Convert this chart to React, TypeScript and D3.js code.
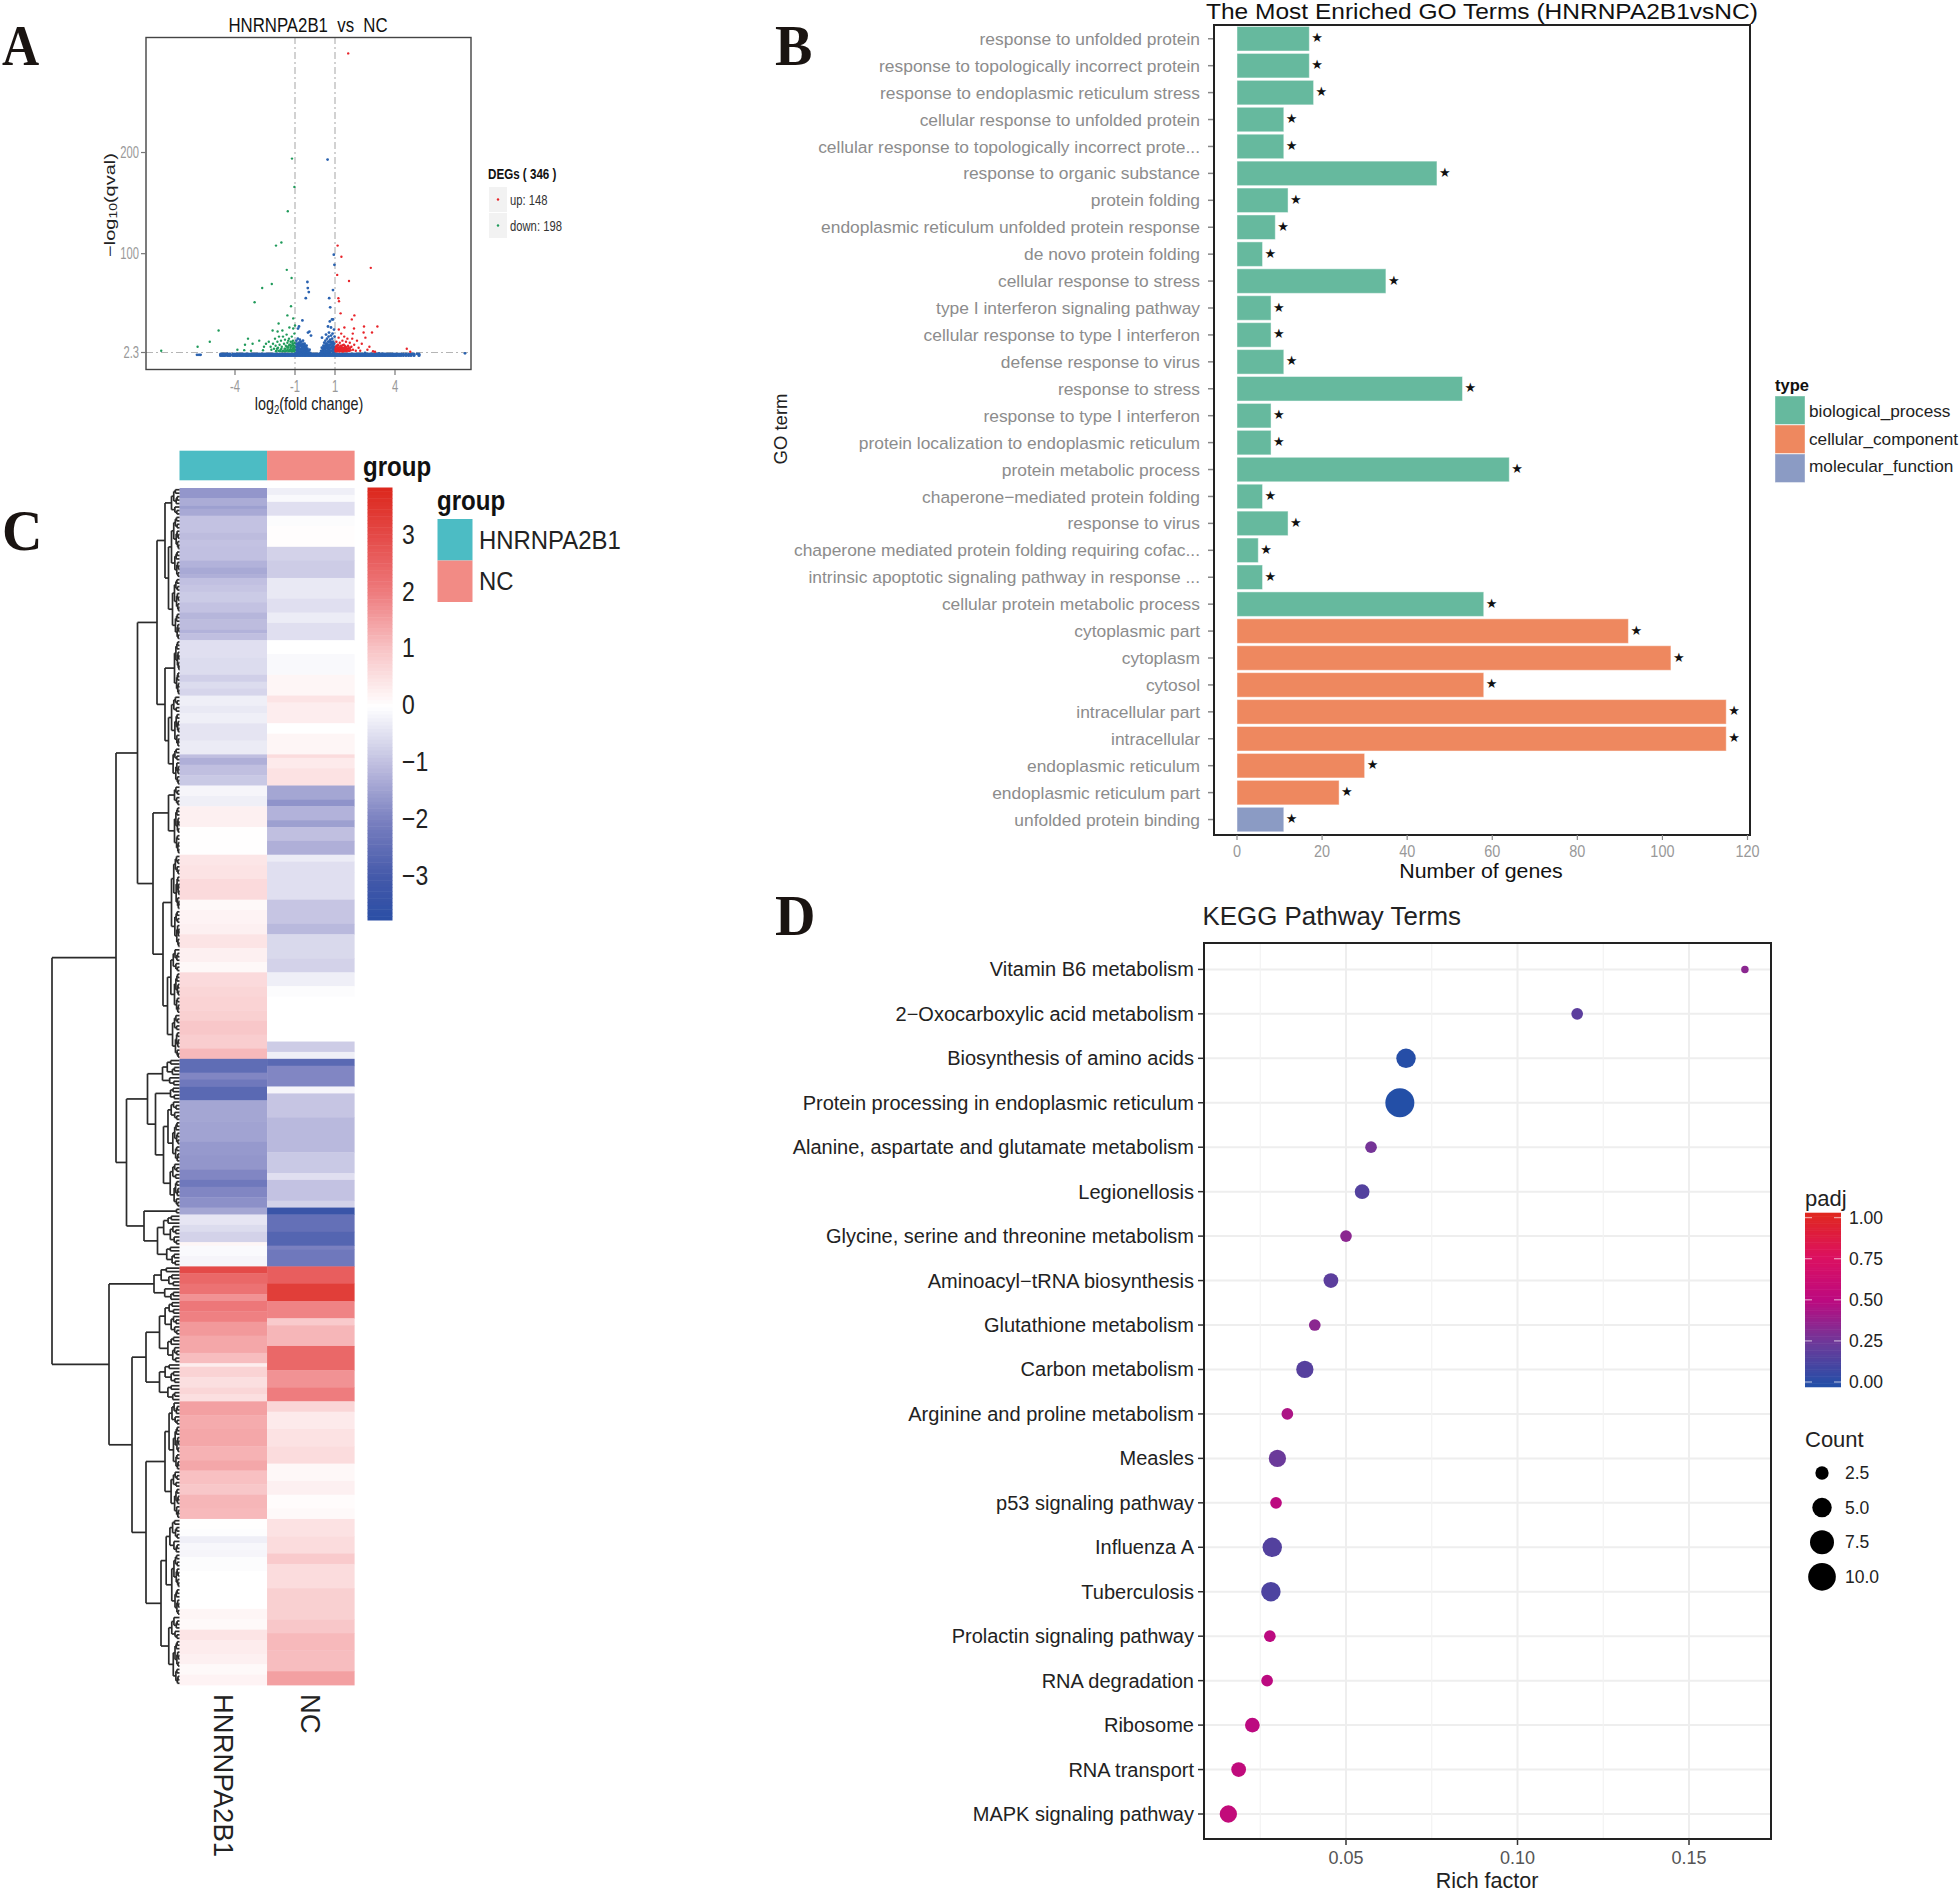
import React from "react";
import * as d3 from "d3";

const SANS = "'Liberation Sans', Arial, sans-serif";
const SERIF = "'Liberation Serif', serif";

/* ---------- Panel A data ---------- */
const volcanoTicksX = [-4, -1, 1, 4];
const volcanoTicksY = [2.3, 100, 200];
const volcanoThreshX = [-1, 1];
const volcanoDown: number[][] = [
  [-1.15,194],[-1.03,166],[-1.36,142],[-1.68,111],[-1.95,108],[-1.41,84],[-1.17,76],[-2.16,70],[-2.64,66],[-3.02,52],[-1.2,48],[-1.38,39],[-1.09,36],[-1.82,31],[-1.0,29],[-1.09,26],[-1.28,27],[-1.63,24],[-2.12,24],[-1.87,23],[-4.82,24],[-5.26,13],[-5.87,8],[-7.69,4],[-3.35,16],[-3.12,11],[-3.5,10],[-2.79,14],[-3.88,5],[-3.54,4.6],[-3.2,4],
  [-2.31,13],[-2.22,8],[-2.18,5],[-2.1,11],[-2.05,6],[-2.0,16],[-1.97,9],[-1.93,4],[-1.88,13],[-1.85,7],[-1.8,18],[-1.77,10],[-1.72,5],[-1.7,14],[-1.66,8],[-1.63,3.5],[-1.6,18],[-1.55,11],[-1.52,6],[-1.5,15],[-1.46,9],[-1.43,4],[-1.42,20],[-1.38,12],[-1.35,7],[-1.33,3.5],[-1.3,16],[-1.28,10],[-1.25,5],[-1.22,13],[-1.2,8],[-1.18,3.5],[-1.16,18],[-1.13,11],[-1.12,6],[-1.1,14],[-1.07,4],[-1.05,9],[-1.03,21],[-1.02,12],[-2.55,8],[-2.6,4.5],[-2.45,11],
  [-1.95,3.5],[-1.9,6],[-1.82,4],[-1.75,3.5],[-1.68,6],[-1.58,4],[-1.5,3.5],[-1.47,6],[-1.4,8],[-1.36,5],[-1.31,9],[-1.27,3.5],[-1.23,7],[-1.2,5],[-1.15,4],[-1.15,9],[-1.11,3.5],[-1.09,7],[-1.06,6],[-1.04,3.5],[-1.02,5],[-1.02,8],[-1.08,11],[-1.14,13],[-1.24,10],[-1.34,14],
];
const volcanoUp: number[][] = [
  [1.66,298],[1.13,108],[1.32,97],[2.79,86],[1.11,79],[1.7,73],[1.17,56],[1.2,53],[1.28,41],[1.97,39],[1.84,35],[3.12,28],[2.45,28],[2.85,22],[2.43,22],[1.95,26],[1.47,27],[1.19,25],[1.89,21],[2.52,17],[4.59,6],[4.76,3],[2.72,8],[2.62,5],[3.0,3],[2.9,3.5],
  [1.03,4],[1.05,8],[1.07,13],[1.09,3.5],[1.12,6],[1.14,10],[1.16,4],[1.18,17],[1.2,7],[1.22,3.5],[1.24,12],[1.27,5],[1.29,9],[1.31,21],[1.33,4],[1.35,7],[1.37,14],[1.39,3.5],[1.42,5],[1.44,10],[1.46,18],[1.48,6],[1.5,4],[1.52,8],[1.55,13],[1.57,3.5],[1.59,6],[1.62,16],[1.65,9],[1.68,4],[1.7,6],[1.74,12],[1.78,4.5],[1.82,8],[1.86,16],[1.9,5],[1.96,10],[2.04,4],[2.1,14],[2.18,7],[2.26,4],[2.34,11],
  [1.02,6],[1.04,3.5],[1.06,5.5],[1.08,9],[1.1,4.5],[1.13,7.5],[1.15,5.5],[1.17,9.5],[1.19,3.5],[1.21,5],[1.23,7.5],[1.25,3.5],[1.28,6.5],[1.3,4.5],[1.32,8],[1.34,5.5],[1.36,3.5],[1.38,9.5],[1.4,6.5],[1.43,3.5],[1.45,7],[1.47,4.5],[1.49,9],[1.53,5.5],[1.56,7.5],[1.6,4],[1.63,6],[1.67,8],[1.72,4],[1.76,7],
];
const volcanoMid: number[][] = [
  [0.63,193],[0.94,99],[0.97,89],[-0.38,72],[-0.36,66],[-0.31,62],[-0.46,56],[0.9,64],[0.71,56],[0.76,47],[-0.63,34],[-0.85,26],[-0.8,28],[-0.35,22],[-0.28,23],[-0.2,19],[0.85,35],[0.74,33],[0.9,35],[0.65,28],[0.8,27],[0.95,25],[0.55,20],[0.7,22],[0.88,21],[0.98,18],[0.35,17],
  [-0.97,2],[-0.95,8],[-0.93,14],[-0.9,4],[-0.88,11],[-0.86,16],[-0.84,2],[-0.82,7],[-0.8,12],[-0.78,3],[-0.76,15],[-0.74,5],[-0.72,9],[-0.7,13],[-0.68,2],[-0.66,6],[-0.64,10],[-0.62,3],[-0.6,14],[-0.58,5],[-0.56,8],[-0.54,2],[-0.52,11],[-0.5,4],[-0.48,7],[-0.46,2],[-0.44,5],[-0.42,9],[-0.4,3],[-0.38,6],[-0.36,2],[-0.33,4],[-0.3,2],[-0.27,5],[-0.24,2],
  [0.28,2],[0.31,4],[0.34,7],[0.37,2],[0.4,5],[0.42,9],[0.44,3],[0.46,12],[0.48,6],[0.5,2],[0.52,14],[0.54,4],[0.56,9],[0.58,11],[0.6,16],[0.62,3],[0.64,7],[0.66,13],[0.68,18],[0.7,5],[0.72,10],[0.74,2],[0.76,15],[0.78,7],[0.8,19],[0.82,12],[0.84,4],[0.86,16],[0.88,9],[0.9,13],[0.92,2],[0.94,6],[0.96,11],[0.98,3],
  [-0.96,5],[-0.94,11],[-0.92,2],[-0.9,8],[-0.88,6],[-0.86,3],[-0.85,9],[-0.83,5],[-0.81,10],[-0.79,6],[-0.77,9],[-0.75,12],[-0.73,3],[-0.71,6],[-0.69,10],[-0.67,4],[-0.65,8],[-0.63,6],[-0.61,11],[-0.59,3],[-0.57,10],[-0.55,5],[-0.53,7],[-0.51,3],[-0.49,9],[-0.45,7],[-0.41,5],[-0.37,4],[-0.34,3],
  [0.38,4],[0.41,3],[0.43,6],[0.45,8],[0.47,3],[0.49,9],[0.51,5],[0.53,7],[0.55,11],[0.57,3],[0.59,7],[0.61,9],[0.63,5],[0.65,10],[0.67,3],[0.69,8],[0.71,13],[0.73,6],[0.75,4],[0.77,10],[0.79,13],[0.81,4],[0.83,8],[0.85,11],[0.87,6],[0.89,3],[0.91,8],[0.93,11],[0.95,4],[0.97,8],[0.99,6],
  [-5.9,0],[-5.8,0],[-5.72,0],[-4.6,0.6],[-4.55,0],[-4.4,1],[-4.3,0.4],[7.5,1.5],[4.9,1],[5.1,1],[4.7,0],[3.2,1.5],[3.4,1],[2.8,1],[2.5,2],
];
const volcanoBandX = [
  -4.72,-4.64,-4.57,-4.5,-4.38,-4.3,-4.24,-4.1,-4.03,-3.95,-3.88,-3.79,-3.71,-3.64,-3.56,-3.47,-3.4,-3.33,-3.24,-3.16,-3.09,-3.01,-2.93,-2.85,-2.78,-2.7,-2.62,-2.55,-2.47,-2.39,-2.31,-2.24,-2.16,-2.08,-2.0,-1.93,-1.85,-1.77,-1.7,-1.62,-1.54,-1.47,-1.39,-1.31,-1.23,-1.16,-1.08,-1.0,-0.93,-0.85,-0.77,-0.7,-0.62,-0.54,-0.47,-0.39,-0.31,-0.24,-0.16,-0.08,0.0,0.07,0.15,0.23,0.3,0.38,0.46,0.53,0.61,0.69,0.76,0.84,0.92,1.0,1.07,1.15,1.23,1.3,1.38,1.46,1.53,1.61,1.69,1.76,1.84,1.92,2.0,2.07,2.15,2.23,2.3,2.38,2.46,2.53,2.61,2.69,2.76,2.84,2.92,3.0,3.07,3.15,3.23,3.3,3.38,3.46,3.53,3.62,3.7,3.78,3.86,3.93,4.01,4.09,4.2,4.3,4.42,4.55,4.68,4.8,4.95,5.2,
];
const volcanoBandQ = [-0.6, 0.6];

/* ---------- Panel B data ---------- */
const goTerms = [
  "response to unfolded protein","response to topologically incorrect protein","response to endoplasmic reticulum stress","cellular response to unfolded protein","cellular response to topologically incorrect prote...","response to organic substance","protein folding","endoplasmic reticulum unfolded protein response","de novo protein folding","cellular response to stress","type I interferon signaling pathway","cellular response to type I interferon","defense response to virus","response to stress","response to type I interferon","protein localization to endoplasmic reticulum","protein metabolic process","chaperone−mediated protein folding","response to virus","chaperone mediated protein folding requiring cofac...","intrinsic apoptotic signaling pathway in response ...","cellular protein metabolic process","cytoplasmic part","cytoplasm","cytosol","intracellular part","intracellular","endoplasmic reticulum","endoplasmic reticulum part","unfolded protein binding",
];
const goCounts = [17,17,18,11,11,47,12,9,6,35,8,8,11,53,8,8,64,6,12,5,6,58,92,102,58,115,115,30,24,11];
const goTypes = ["biological_process","cellular_component","molecular_function"];
const goTypeCounts = [22,7,1];
const goColors = ["#66b99e","#ee885f","#8b9bc4"];
const goTicks = [0,20,40,60,80,100,120];

/* ---------- Panel C data: [end row, z-score] ---------- */
const heatCols = ["HNRNPA2B1","NC"];
const heatColColors = ["#4cbcc4","#f28b85"];
const heatRowCount = 346;
const heatA: number[][] = [
  [3,-1.65],[5,-1.3],[6,-1.5],[8,-1.35],[13,-0.95],[15,-1.05],[17,-0.95],[21,-0.98],[23,-1.2],[25,-1.35],[26,-1.25],[28,-0.98],[30,-0.9],[33,-0.82],[36,-0.95],[38,-1.15],[41,-1.05],[42,-1.2],[44,-1],[49,-0.5],[54,-0.55],[56,-0.75],[58,-0.55],[60,-0.65],[63,-0.25],[65,-0.35],[68,-0.25],[73,-0.42],[77,-0.32],[78,-1],[80,-1.25],[83,-1],[86,-0.85],[89,-0.15],[92,-0.25],[98,0.25],[106,0.02],[109,0.42],[113,0.48],[119,0.62],[122,0.1],[126,0.2],[129,0.25],[133,0.45],
  [137,0.25],[140,0.12],[144,0.62],[147,0.7],[151,0.75],[154,0.8],[158,0.95],[162,0.85],[165,1.15],[169,-2.5],[171,-1.9],[173,-2.2],[177,-2.6],[183,-1.4],[189,-1.45],[193,-1.6],[197,-1.65],[200,-1.9],[202,-2.2],[205,-1.9],[208,-1.75],[210,-1.4],[213,-0.4],[215,-0.55],[218,-0.7],[219,0.15],[222,-0.08],[225,-0.15],[227,3.0],[230,2.4],[233,2.2],[235,1.7],[238,2.1],[241,1.95],[245,1.6],[250,1.4],[253,1.1],[254,0.3],[257,0.75],[260,0.55],[262,0.7],[264,0.55],
  [268,1.5],[272,1.35],[277,1.4],[281,1.25],[284,1.4],[288,1.05],[291,0.95],[295,1.2],[298,1.15],[301,0.02],[303,-0.03],[305,-0.25],[307,-0.12],[309,-0.15],[313,-0.05],[324,0],[327,0.15],[330,0.1],[333,0.45],[337,0.32],[340,0.25],[343,0.1],[346,0.2],
];
const heatB: number[][] = [
  [2,-0.25],[4,-0.1],[8,-0.5],[11,-0.05],[17,0.03],[21,-0.7],[26,-0.8],[32,-0.35],[36,-0.5],[39,-0.3],[44,-0.5],[48,0],[54,-0.1],[60,0.15],[62,0.45],[68,0.3],[71,0],[77,0.15],[78,0.6],[81,0.35],[86,0.5],[90,-1.4],[92,-1.7],[96,-1.2],[98,-1.5],[102,-1],[106,-1.25],[108,-0.3],[111,-0.5],[119,-0.5],[126,-0.9],[129,-1.1],[136,-0.6],
  [140,-0.7],[144,-0.25],[147,-0.05],[160,0],[163,-0.8],[165,-0.25],[167,-2.6],[173,-1.9],[175,-0.15],[182,-0.9],[192,-1.1],[198,-0.85],[200,-0.5],[206,-0.95],[208,-0.7],[210,-3.3],[215,-2.4],[219,-2.7],[220,-2],[225,-2.2],[230,2.6],[235,3.3],[240,1.9],[242,0.9],[248,1.2],[255,2.4],[260,1.7],[264,2.0],
  [267,0.7],[272,0.35],[277,0.5],[282,0.6],[287,0.12],[291,0.25],[295,0.05],[298,0.1],[303,0.5],[308,0.6],[311,0.9],[318,0.6],[327,0.8],[331,0.95],[336,1.15],[342,1.1],[346,1.5],
];
const heatLegendTicks = [3,2,1,0,-1,-2,-3];
const heatLegendSteps = d3.range(120);
const heatStops = [-3.78,-3,-2,-1,0,1,2,3,3.82];
const heatStopColors = ["#2a4ea5","#4459aa","#7a80c0","#c0bfe0","#ffffff","#f8c4c6","#ee7c7e","#e44a48","#dc281e"];

type TreeNode = { h: number; c: (TreeNode | number[])[] };
const heatTree: TreeNode = { h: 127.5, c: [
  { h: 63.5, c: [
    { h: 42, c: [
      { h: 22.5, c: [
        { h: 14.5, c: [[0,8,8], { h: 11, c: [[8,26,8],[26,44,7]] }] },
        { h: 14.5, c: [[44,60,5],[60,86,11]] },
      ] },
      { h: 26.5, c: [
        { h: 11, c: [[86,92,5],[92,106,5]] },
        { h: 16.5, c: [[106,133,8],[133,165,12]] },
      ] },
    ] },
    { h: 53, c: [
      { h: 32, c: [[165,173,17], { h: 24, c: [[173,177,9],[177,208,16]] }] },
      { h: 35.5, c: [[208,210,3],[210,225,22]] },
    ] },
  ] },
  { h: 70.5, c: [
    [225,235,25.5],
    { h: 47.5, c: [
      { h: 33.5, c: [[235,253,20],[253,264,20]] },
      { h: 33.5, c: [[264,298,14.5],[298,346,18.5]] },
    ] },
  ] },
] };

/* ---------- Panel D data ---------- */
const keggTerms = ["Vitamin B6 metabolism","2−Oxocarboxylic acid metabolism","Biosynthesis of amino acids","Protein processing in endoplasmic reticulum","Alanine, aspartate and glutamate metabolism","Legionellosis","Glycine, serine and threonine metabolism","Aminoacyl−tRNA biosynthesis","Glutathione metabolism","Carbon metabolism","Arginine and proline metabolism","Measles","p53 signaling pathway","Influenza A","Tuberculosis","Prolactin signaling pathway","RNA degradation","Ribosome","RNA transport","MAPK signaling pathway"];
const keggRich = [0.1663,0.1174,0.0675,0.0657,0.0573,0.0547,0.05,0.0456,0.0409,0.038,0.0329,0.03,0.0296,0.0285,0.0281,0.0278,0.027,0.0227,0.0187,0.0157];
const keggCount = [1,2,5,11,2,3,2,3,2,4,2,4,2,5,5,2,2,3,3,4];
const keggPadj = [0.35,0.2,0.02,0.01,0.28,0.17,0.35,0.2,0.35,0.18,0.45,0.25,0.5,0.17,0.15,0.5,0.5,0.5,0.53,0.55];
const keggTicks = [0.05,0.1,0.15];
const keggMinor = [0.025,0.075,0.125];
const padjTicks = [1,0.75,0.5,0.25,0];
const padjStops = [0,0.25,0.5,0.75,1];
const padjColors = ["#2050a8","#6b3a9a","#bc0a80","#dc1060","#e0281e"];
const countLegend = [2.5,5,7.5,10];
const padjSteps = d3.range(100);

/* ---------- helpers ---------- */
type TP = { x: number; y: number; s: number; f?: string; a?: string; w?: any; sx?: number; rot?: number; fam?: string; children: any };
const T = ({ x, y, s, f = "#111", a = "start", w = "normal", sx = 1, rot = 0, fam = SANS, children }: TP) => (
  <text transform={`translate(${x},${y}) rotate(${rot}) scale(${sx},1)`} fontFamily={fam} fontSize={s} fill={f} textAnchor={a} fontWeight={w} dy="0.35em">{children}</text>
);

export default function App() {
  /* A */
  const ax = d3.scaleLinear().domain([-8.45, 7.8]).range([146, 471]);
  const ay = d3.scaleLinear().domain([-15, 314.2]).range([370, 37]);
  /* B */
  const bx = d3.scaleLinear().domain([0, 120]).range([1237, 1747.5]);
  const by = d3.scaleBand<number>().domain(d3.range(goTerms.length)).range([25.3, 833]).paddingInner(0.09).paddingOuter(0.045);
  const goColorOf = (i: number) => { let acc = 0; for (let t = 0; t < goTypeCounts.length; t++) { acc += goTypeCounts[t]; if (i < acc) return goColors[t]; } return goColors[0]; };
  /* C */
  const hy = d3.scaleLinear().domain([0, heatRowCount]).range([488, 1685]);
  const hx = d3.scaleBand<number>().domain([0, 1]).range([179.5, 354.6]);
  const hc = d3.scaleLinear<string>().domain(heatStops).range(heatStopColors);
  const hl = d3.scaleLinear().domain([3.82, -3.78]).range([487.5, 920]);
  const tx = d3.scaleLinear().domain([0, 127.5]).range([179.5, 52]);
  const segs: number[][] = [];
  const comb = (r0: number, r1: number, h: number, depth: number): { y: number; h: number } => {
    if (r1 - r0 <= 1) return { y: hy((r0 + r1) / 2), h: 0 };
    const m = Math.max(r0 + 1, Math.round(r0 + (r1 - r0) * (depth % 2 ? 0.36 : 0.58)));
    const a = comb(r0, m, h * 0.72, depth + 1);
    const b = comb(m, r1, h * 0.58, depth + 1);
    segs.push([tx(h), a.y, tx(h), b.y], [tx(h), a.y, tx(a.h), a.y], [tx(h), b.y, tx(b.h), b.y]);
    return { y: (a.y + b.y) / 2, h };
  };
  const walk = (n: TreeNode | number[]): { y: number; h: number } => {
    if (Array.isArray(n)) return comb(n[0], n[1], n[2], 0);
    const a = walk(n.c[0]);
    const b = walk(n.c[1]);
    segs.push([tx(n.h), a.y, tx(n.h), b.y], [tx(n.h), a.y, tx(a.h), a.y], [tx(n.h), b.y, tx(b.h), b.y]);
    return { y: (a.y + b.y) / 2, h: n.h };
  };
  walk(heatTree);
  /* D */
  const dx = d3.scaleLinear().domain([0.05, 0.15]).range([1346, 1689]);
  const dy = d3.scalePoint<number>().domain(d3.range(keggTerms.length)).range([969.4, 1814]);
  const dr = d3.scalePow().exponent(0.42).domain([1, 11]).range([3.75, 14.5]);
  const dc = d3.scaleLinear<string>().domain(padjStops).range(padjColors);
  const dl = d3.scaleLinear().domain([0, 1]).range([1382, 1217.7]);

  return (
    <svg width={1960} height={1893} style={{ position: "absolute", left: 0, top: 0, background: "#fff" }}>
      {/* letters */}
      <T x={2} y={45} s={56} w="bold" fam={SERIF} f="#1a1411" sx={0.92}>A</T>
      <T x={775} y={45} s={56} w="bold" fam={SERIF} f="#1a1411">B</T>
      <T x={2} y={530} s={56} w="bold" fam={SERIF} f="#1a1411">C</T>
      <T x={775} y={915} s={56} w="bold" fam={SERIF} f="#1a1411">D</T>

      {/* Panel A */}
      <g>
        <T x={308} y={25} s={21} a="middle" sx={0.8}>{"HNRNPA2B1\u00a0\u00a0vs\u00a0\u00a0NC"}</T>
        {volcanoThreshX.map(v => <line key={v} x1={ax(v)} x2={ax(v)} y1={37} y2={370} stroke="#b5b5b5" strokeWidth={1.2} strokeDasharray="7 3 2 3" />)}
        <line x1={146} x2={471} y1={ay(2.3)} y2={ay(2.3)} stroke="#b5b5b5" strokeWidth={1.2} strokeDasharray="7 3 2 3" />
        {volcanoBandQ.map(q => volcanoBandX.map(v => <circle key={q + "_" + v} cx={ax(v)} cy={ay(q)} r={1.6} fill="#2a62b0" />))}
        {volcanoMid.map((p, i) => <circle key={i} cx={ax(p[0])} cy={ay(p[1])} r={1.4} fill="#2a62b0" />)}
        {volcanoDown.map((p, i) => <circle key={i} cx={ax(p[0])} cy={ay(p[1])} r={1.2} fill="#1f9a5a" />)}
        {volcanoUp.map((p, i) => <circle key={i} cx={ax(p[0])} cy={ay(p[1])} r={1.2} fill="#e8242a" />)}
        <rect x={146} y={37.5} width={325} height={332} fill="none" stroke="#444" strokeWidth={1.4} />
        {volcanoTicksY.map(v => <g key={v}><line x1={141} x2={146} y1={ay(v)} y2={ay(v)} stroke="#777" strokeWidth={1.2} /><T x={139} y={ay(v)} s={16} a="end" f="#999" sx={0.7}>{v}</T></g>)}
        {volcanoTicksX.map(v => <g key={v}><line x1={ax(v)} x2={ax(v)} y1={370} y2={375} stroke="#777" strokeWidth={1.2} /><T x={ax(v)} y={386} s={16} a="middle" f="#999" sx={0.7}>{v}</T></g>)}
        <text transform="translate(309,410) scale(0.8,1)" textAnchor="middle" fontFamily={SANS} fontSize={18} fill="#222">log<tspan fontSize={12} dy={4}>2</tspan><tspan dy={-4}>(fold change)</tspan></text>
        <text transform="translate(115,205) rotate(-90) scale(1,0.75)" textAnchor="middle" fontFamily={SANS} fontSize={20} fill="#222">−log<tspan fontSize={14} dy={3}>10</tspan><tspan dy={-3}>(qval)</tspan></text>
        <T x={488} y={174} s={15.5} w="bold" sx={0.75}>DEGs ( 346 )</T>
        <rect x={489} y={187} width={18} height={25} fill="#f2f2f2" />
        <rect x={489} y={213} width={18} height={25} fill="#f2f2f2" />
        <circle cx={498} cy={199.5} r={1.2} fill="#e8242a" />
        <circle cx={498} cy={225.5} r={1.2} fill="#1f9a5a" />
        <T x={510} y={200} s={15} sx={0.75} f="#333">up: 148</T>
        <T x={510} y={226} s={15} sx={0.75} f="#333">down: 198</T>
      </g>

      {/* Panel B */}
      <g>
        <T x={1206} y={11} s={21.5} sx={1.14}>The Most Enriched GO Terms (HNRNPA2B1vsNC)</T>
        {goCounts.map((v, i) => (
          <g key={i}>
            <rect x={bx(0)} y={by(i)!} width={bx(v) - bx(0)} height={by.bandwidth()} fill={goColorOf(i)} stroke="#fff" strokeOpacity={0.45} strokeWidth={1} />
            <T x={bx(v) + 2} y={by(i)! + by.bandwidth() / 2 - 1} s={13} fam="'DejaVu Sans', sans-serif" f="#111">★</T>
            <line x1={1208} x2={1213.5} y1={by(i)! + by.bandwidth() / 2} y2={by(i)! + by.bandwidth() / 2} stroke="#888" strokeWidth={1.5} />
            <T x={1200} y={by(i)! + by.bandwidth() / 2} s={17.4} a="end" f="#8c8c8c">{goTerms[i]}</T>
          </g>
        ))}
        <rect x={1214} y={25} width={536} height={810} fill="none" stroke="#222" strokeWidth={2} />
        {goTicks.map(v => <g key={v}><line x1={bx(v)} x2={bx(v)} y1={835} y2={840} stroke="#888" strokeWidth={1.2} /><T x={bx(v)} y={851} s={17} a="middle" f="#999" sx={0.85}>{v}</T></g>)}
        <T x={1481} y={871} s={20.5} a="middle" sx={1.04}>Number of genes</T>
        <T x={781} y={429} s={18.5} a="middle" rot={-90} f="#222">GO term</T>
        <T x={1775} y={385} s={16.5} w="bold">type</T>
        {goTypes.map((t, i) => (
          <g key={t}>
            <rect x={1775} y={396 + i * 29} width={30} height={28.5} fill={goColors[i]} stroke="#fff" strokeOpacity={0.4} />
            <T x={1809} y={411 + i * 27.5} s={17.2} f="#222">{t}</T>
          </g>
        ))}
      </g>

      {/* Panel C */}
      <g>
        {heatColColors.map((c, i) => <rect key={i} x={hx(i)!} y={450.7} width={hx.bandwidth()} height={29.6} fill={c} />)}
        <T x={363} y={466} s={28} w="bold" sx={0.86}>group</T>
        {[heatA, heatB].map((runs, c) => runs.map((r, i) => {
          const start = i ? runs[i - 1][0] : 0;
          return <rect key={c + "_" + i} x={hx(c)!} y={hy(start)} width={hx.bandwidth()} height={hy(r[0]) - hy(start) + 0.4} fill={hc(r[1])} />;
        }))}
        {segs.map((s, i) => <line key={i} x1={s[0]} y1={s[1]} x2={s[2]} y2={s[3]} stroke="#2b2b2b" strokeWidth={1.7} />)}
        {heatLegendSteps.map(i => {
          const v = 3.82 - (7.6 * i) / 120;
          return <rect key={i} x={367.5} y={hl(v)} width={25} height={432.5 / 120 + 0.5} fill={hc(v)} />;
        })}
        {heatLegendTicks.map(v => <T key={v} x={402} y={hl(v)} s={27} sx={0.85} f="#222">{v < 0 ? "−" + -v : v}</T>)}
        <T x={437} y={500} s={28} w="bold" sx={0.86}>group</T>
        {heatCols.map((c, i) => (
          <g key={c}>
            <rect x={437.5} y={519 + i * 41.5} width={35} height={41.5} fill={heatColColors[i]} />
            <T x={479} y={540 + i * 41} s={26} sx={0.92} f="#222">{c}</T>
          </g>
        ))}
        {heatCols.map((c, i) => <T key={c} x={hx(i)! + hx.bandwidth() / 2} y={1694} s={27.5} rot={90} f="#222">{c}</T>)}
      </g>

      {/* Panel D */}
      <g>
        <T x={1202.5} y={916} s={25.9} f="#222">KEGG Pathway Terms</T>
        {keggTerms.map((_, i) => <line key={i} x1={1204} x2={1771} y1={dy(i)!} y2={dy(i)!} stroke="#eeeeee" strokeWidth={2} />)}
        {keggMinor.map(v => <line key={v} x1={dx(v)} x2={dx(v)} y1={942} y2={1839} stroke="#f2f2f2" strokeWidth={1.2} />)}
        {keggTicks.map(v => <line key={v} x1={dx(v)} x2={dx(v)} y1={942} y2={1839} stroke="#eeeeee" strokeWidth={2} />)}
        {keggTerms.map((t, i) => (
          <g key={t}>
            <circle cx={dx(keggRich[i])} cy={dy(i)!} r={dr(keggCount[i])} fill={dc(keggPadj[i])} />
            <line x1={1198} x2={1204} y1={dy(i)!} y2={dy(i)!} stroke="#333" strokeWidth={1.5} />
            <T x={1194} y={dy(i)!} s={20} a="end" f="#222">{t}</T>
          </g>
        ))}
        <rect x={1204} y={943} width={567} height={896} fill="none" stroke="#222" strokeWidth={2} />
        {keggTicks.map(v => <g key={v}><line x1={dx(v)} x2={dx(v)} y1={1839} y2={1845} stroke="#333" strokeWidth={1.5} /><T x={dx(v)} y={1858} s={18} a="middle" f="#555">{v.toFixed(2)}</T></g>)}
        <T x={1487} y={1880} s={21.5} a="middle" f="#222">Rich factor</T>
        <T x={1805} y={1198} s={22} f="#222">padj</T>
        {padjSteps.map(i => {
          const v = 1 - i / 100;
          return <rect key={i} x={1805} y={1212.7 + i * 1.74} width={36} height={2.3} fill={dc(v)} />;
        })}
        {padjTicks.map(v => (
          <g key={v}>
            <line x1={1805} x2={1812} y1={dl(v)} y2={dl(v)} stroke="#fff" strokeOpacity={0.7} strokeWidth={1} />
            <line x1={1834} x2={1841} y1={dl(v)} y2={dl(v)} stroke="#fff" strokeOpacity={0.7} strokeWidth={1} />
            <T x={1849} y={dl(v)} s={17.5} f="#222">{v.toFixed(2)}</T>
          </g>
        ))}
        <T x={1805} y={1439} s={22} f="#222">Count</T>
        {countLegend.map((c, i) => (
          <g key={c}>
            <circle cx={1822} cy={1473 + i * 34.6} r={dr(c)} fill="#000" />
            <T x={1845} y={1473 + i * 34.6} s={17.5} f="#222">{c.toFixed(1)}</T>
          </g>
        ))}
      </g>
    </svg>
  );
}
